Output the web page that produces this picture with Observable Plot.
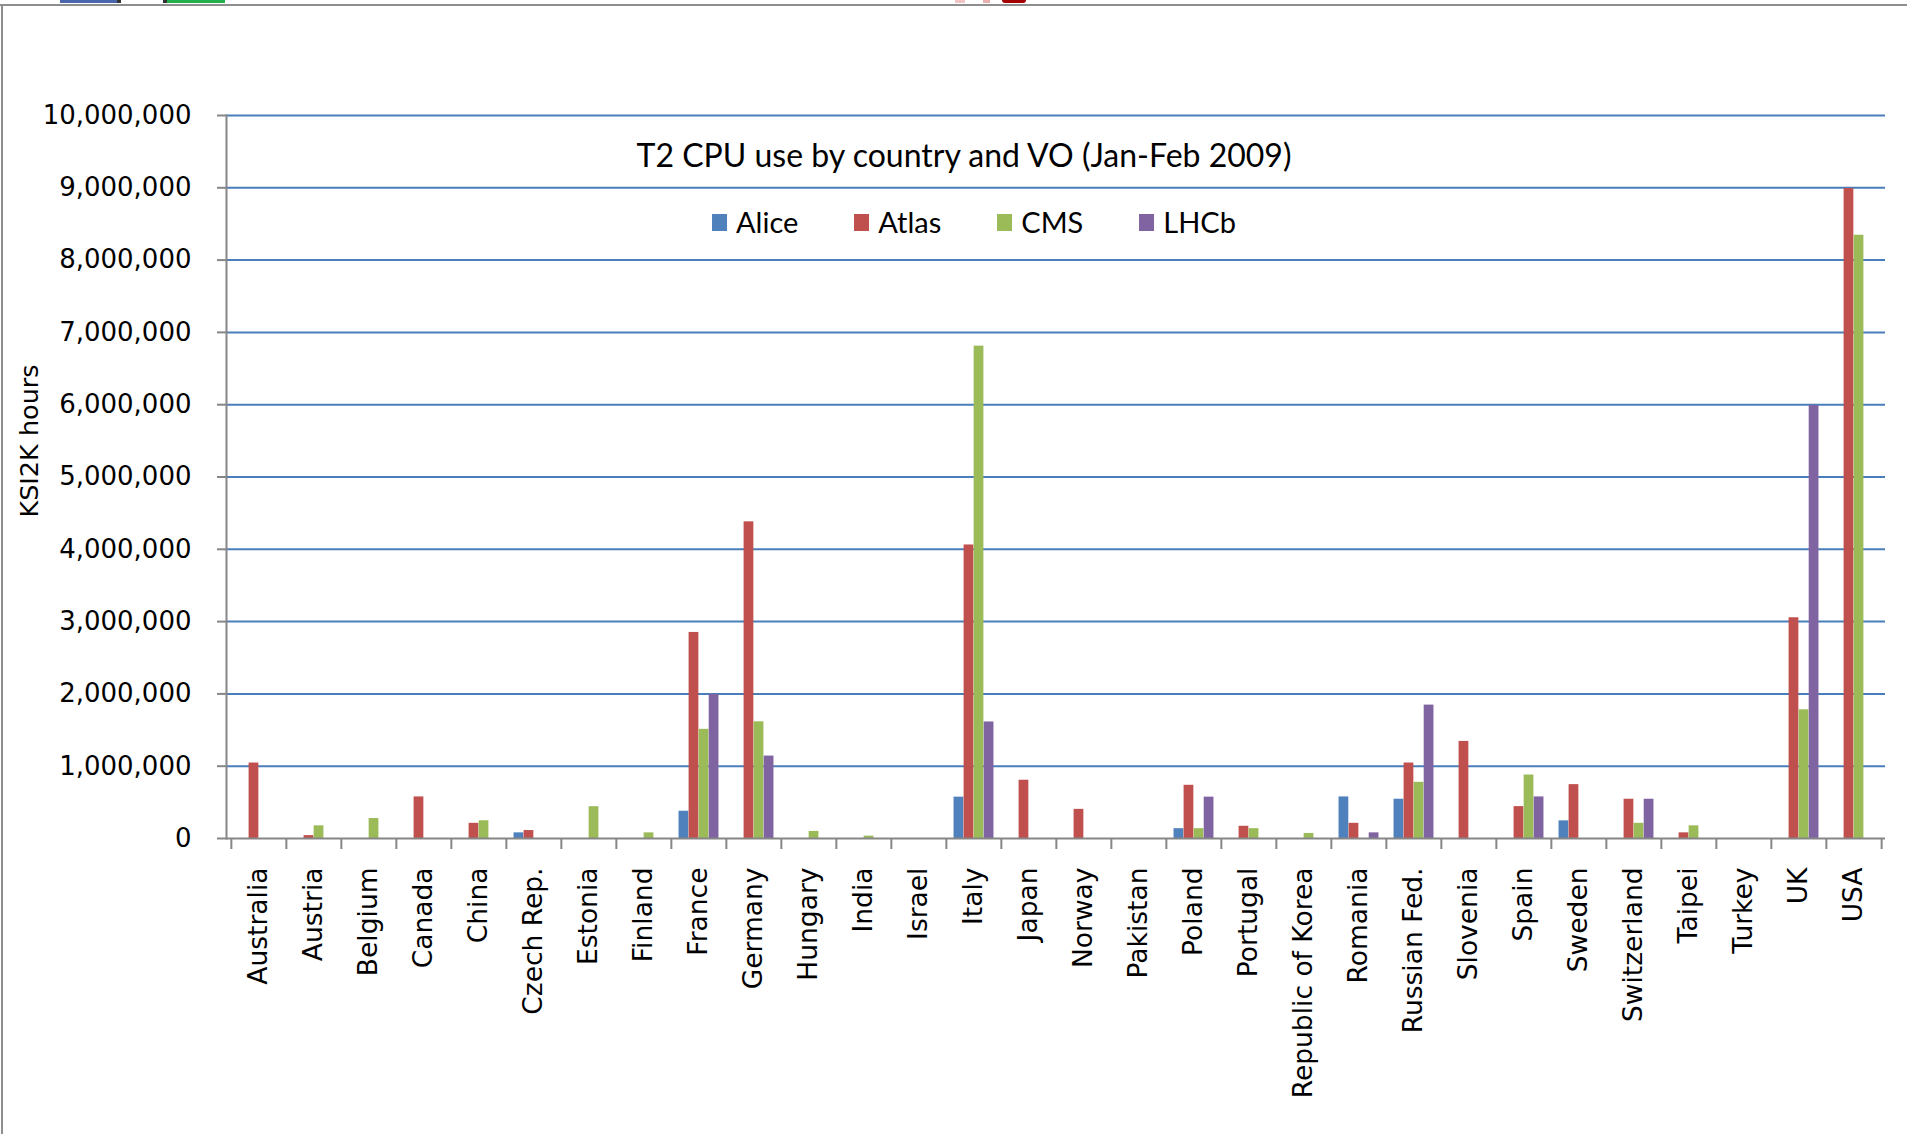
<!DOCTYPE html>
<html>
<head>
<meta charset="utf-8">
<script src="https://cdn.jsdelivr.net/npm/d3@7"></script>
<script src="https://cdn.jsdelivr.net/npm/@observablehq/plot@0.6"></script>
<style>
  html, body { margin: 0; padding: 0; background: #fff; }
  #wrap { position: relative; width: 1907px; height: 1134px; overflow: hidden; background: #fff; }
  #chart { position: absolute; left: 0; top: 0; }
  .bt { position: absolute; left: 0; top: 4px; width: 1907px; height: 2px; background: #8e8e8e; }
  .bl { position: absolute; left: 1px; top: 4px; width: 2px; height: 1130px; background: #8e8e8e; }
  .rem { position: absolute; top: 0; height: 3px; }
  #title { position: absolute; left: 964px; top: 139px; transform: translateX(-50%); white-space: nowrap;
           font-family: Lato, "Open Sans", sans-serif; font-size: 32px; line-height: 32px; color: #000; }
  #legend { position: absolute; left: 974px; top: 207px; transform: translateX(-50%); display: flex; gap: 56px;
            align-items: center; height: 30px; font-family: Lato, "Open Sans", sans-serif; font-size: 29px; line-height: 30px; color: #000; white-space: nowrap; }
  #legend .it { display: flex; align-items: center; gap: 9px; }
  #legend .sw { width: 15px; height: 17px; display: inline-block; }
  #ylab { position: absolute; left: 29px; top: 441px; transform: translate(-50%, -50%) rotate(-90deg); white-space: nowrap;
          font-family: "DejaVu Sans", Verdana, sans-serif; font-size: 25.5px; color: #000; }
</style>
</head>
<body>
<div id="wrap">
  <div id="chart"></div>
  <div class="bt"></div>
  <div class="bl"></div>
  <div class="rem" style="left:60px;width:57px;background:#4a66ac"></div>
  <div class="rem" style="left:117px;width:4px;background:#333"></div>
  <div class="rem" style="left:163px;width:4px;background:#333"></div>
  <div class="rem" style="left:167px;width:58px;background:#22b14c"></div>
  <div class="rem" style="left:955px;width:10px;background:#f2c4c4"></div>
  <div class="rem" style="left:983px;width:7px;background:#eab0b0"></div>
  <div class="rem" style="left:1002px;width:24px;background:#a30000;border-radius:0 0 10px 10px"></div>
  <div id="title"></div>
  <div id="legend"></div>
  <div id="ylab"></div>
</div>
<script>
// ---- data ----
const countries = ["Australia", "Austria", "Belgium", "Canada", "China", "Czech Rep.", "Estonia", "Finland",
  "France", "Germany", "Hungary", "India", "Israel", "Italy", "Japan", "Norway", "Pakistan", "Poland",
  "Portugal", "Republic of Korea", "Romania", "Russian Fed.", "Slovenia", "Spain", "Sweden", "Switzerland",
  "Taipei", "Turkey", "UK", "USA"];
const vos = ["Alice", "Atlas", "CMS", "LHCb"];
const alice = [0, 0, 0, 0, 0, 78000, 0, 0,
  377000, 0, 0, 0, 0, 572000, 0, 0, 0, 136000,
  0, 0, 575000, 543000, 0, 0, 244000, 0,
  0, 0, 0, 0];
const atlas = [1044000, 40000, 0, 575000, 210000, 110000, 0, 0,
  2850000, 4380000, 0, 0, 0, 4060000, 806000, 403000, 0, 736000,
  169000, 0, 210000, 1044000, 1343000, 441000, 745000, 543000,
  78000, 0, 3053000, 8990000];
const cms = [0, 175000, 276000, 0, 245000, 0, 440000, 78000,
  1510000, 1614000, 98000, 33000, 0, 6810000, 0, 0, 0, 136000,
  136000, 70000, 0, 777000, 0, 878000, 0, 210000,
  175000, 0, 1780000, 8344000];
const lhcb = [0, 0, 0, 0, 0, 0, 0, 0,
  1995000, 1140000, 0, 0, 0, 1612000, 0, 0, 0, 572000,
  0, 0, 78000, 1845000, 0, 575000, 0, 543000,
  0, 0, 5990000, 0];
const yTicks = [0, 1000000, 2000000, 3000000, 4000000, 5000000, 6000000, 7000000, 8000000, 9000000, 10000000];
const titleText = "T2 CPU use by country and VO (Jan-Feb 2009)";
const yLabel = "KSI2K hours";

// ---- styling ----
const colors = ["#4F81BD", "#C0504D", "#9BBB59", "#8064A2"];
const W = 1907, H = 1134, mL = 226, mR = 22, mT = 115, mB = 296;
const bw = (W - mL - mR) / countries.length;   // band width
const w = bw / 5.5;                              // bar width (Excel gap 150%)
const series = [alice, atlas, cms, lhcb];
const rows = vos.flatMap((vo, i) => countries.map((c, j) => ({country: c, vo, value: series[i][j]})));
const axisGray = "#868686";

const chart = Plot.plot({
  width: W, height: H,
  marginLeft: mL, marginRight: mR, marginTop: mT, marginBottom: mB,
  style: {fontFamily: "DejaVu Sans, Verdana, sans-serif", fontSize: "26px", color: "#000", background: "transparent"},
  x: {type: "band", domain: countries, padding: 0},
  y: {domain: [0, 10000000]},
  marks: [
    Plot.gridY(yTicks.slice(1), {stroke: "#4A7EBB", strokeOpacity: 1, strokeWidth: 2}),
    ...vos.map((vo, i) => Plot.barY(rows.filter(d => d.vo === vo && d.value > 0), {
      x: "country", y: "value", fill: colors[i],
      insetLeft: 0.75 * w + i * w, insetRight: bw - 0.75 * w - (i + 1) * w
    })),
    Plot.ruleY([0], {stroke: axisGray, strokeWidth: 2}),
    Plot.frame({anchor: "left", stroke: axisGray, strokeWidth: 2}),
    Plot.axisY(yTicks, {tickFormat: d3.format(","), tickSize: 9, tickPadding: 26, stroke: axisGray, strokeWidth: 2,
      fill: "#000", fontSize: 26, label: null}),
    Plot.axisX({tickSize: 0, tickPadding: 29, tickRotate: -90, fontSize: 26.5, fill: "#000", label: null}),
    Plot.axisX({tickSize: 11, tickFormat: () => "", dx: -bw / 2, stroke: axisGray, strokeWidth: 2, label: null}),
    Plot.axisX([countries[countries.length - 1]], {tickSize: 11, tickFormat: () => "", dx: bw / 2, stroke: axisGray, strokeWidth: 2, label: null})
  ]
});
document.getElementById("chart").appendChild(chart);

document.getElementById("title").textContent = titleText;
document.getElementById("ylab").textContent = yLabel;
const legend = document.getElementById("legend");
vos.forEach((vo, i) => {
  const it = document.createElement("span");
  it.className = "it";
  const sw = document.createElement("span");
  sw.className = "sw";
  sw.style.background = colors[i];
  const tx = document.createElement("span");
  tx.textContent = vo;
  it.appendChild(sw); it.appendChild(tx);
  legend.appendChild(it);
});
</script>
</body>
</html>
